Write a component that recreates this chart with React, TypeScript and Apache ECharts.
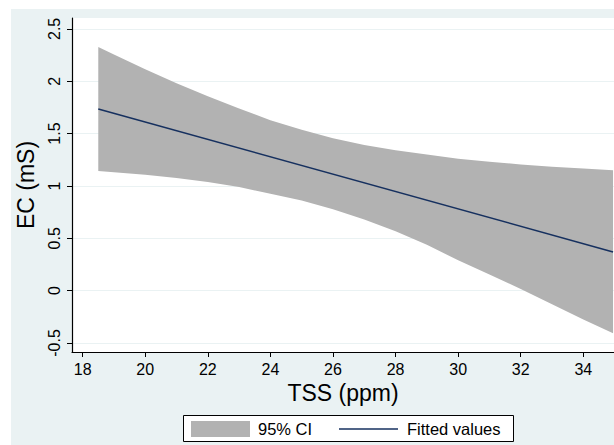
import React, { useEffect, useRef } from "react";
import * as echarts from "echarts";

const xTicks = [18, 20, 22, 24, 26, 28, 30, 32, 34];
const yTicks = [-0.5, 0, 0.5, 1, 1.5, 2, 2.5];
const ciX = [18.5, 19, 20, 21, 22, 23, 24, 25, 26, 27, 28, 29, 30, 31, 32, 33, 34, 34.95];
const ciUpper = [2.326, 2.255, 2.115, 1.981, 1.856, 1.74, 1.628, 1.537, 1.455, 1.39, 1.34, 1.301, 1.26, 1.231, 1.205, 1.184, 1.166, 1.151];
const ciLower = [1.142, 1.131, 1.106, 1.075, 1.037, 0.989, 0.926, 0.861, 0.777, 0.679, 0.568, 0.438, 0.29, 0.155, 0.015, -0.13, -0.275, -0.407];
const fitX = [18.5, 34.95];
const fitY = [1.735, 0.37];
const legendLabels = ["95% CI", "Fitted values"];

const FONT = "'Liberation Sans', Arial, Helvetica, sans-serif";
const BG = "#EAF2F3";
const BAND = "#B2B2B2";
const LINE = "#16305F";

export default function App() {
  const ref = useRef<HTMLDivElement>(null);
  useEffect(() => {
    if (!ref.current) return;
    const chart = echarts.init(ref.current, null, { renderer: "svg" });
    const upperPts = ciX.map((x, i) => [x, ciUpper[i]]);
    const lowerPts = ciX.map((x, i) => [x, ciLower[i]]).reverse();
    chart.setOption({
      animation: false,
      backgroundColor: "#ffffff",
      graphic: [
        { type: "rect", z: -10, silent: true, shape: { x: 11, y: 9, width: 603, height: 436 }, style: { fill: BG } },
        { type: "rect", z: 100, shape: { x: 183.5, y: 415.5, width: 330, height: 26 }, style: { fill: "#ffffff", stroke: "#000000", lineWidth: 1 } },
        { type: "rect", z: 101, shape: { x: 191, y: 421, width: 59, height: 16 }, style: { fill: BAND } },
        { type: "text", z: 101, x: 258, y: 429, style: { text: legendLabels[0], font: `16.5px ${FONT}`, fill: "#000", verticalAlign: "middle" } },
        { type: "line", z: 101, shape: { x1: 339, y1: 429, x2: 398, y2: 429 }, style: { stroke: LINE, lineWidth: 1.6 } },
        { type: "text", z: 101, x: 407, y: 429, style: { text: legendLabels[1], font: `16.5px ${FONT}`, fill: "#000", verticalAlign: "middle" } },
      ],
      grid: { left: 72, top: 18, right: 0, bottom: 93, show: true, backgroundColor: "#ffffff", borderWidth: 0 },
      xAxis: {
        type: "value",
        min: 17.66,
        max: 34.98,
        name: "TSS (ppm)",
        nameLocation: "middle",
        nameGap: 26,
        nameTextStyle: { fontFamily: FONT, fontSize: 23, color: "#000" },
        axisLine: { show: true, onZero: false, lineStyle: { color: "#000", width: 1.2 } },
        axisTick: { show: true, length: 5, customValues: xTicks, lineStyle: { color: "#000" } },
        axisLabel: { customValues: xTicks, margin: 9, fontFamily: FONT, fontSize: 16, color: "#000" },
        splitLine: { show: false },
      },
      yAxis: {
        type: "value",
        min: -0.586,
        max: 2.604,
        name: "EC (mS)",
        nameLocation: "middle",
        nameGap: 35,
        nameTextStyle: { fontFamily: FONT, fontSize: 23, color: "#000" },
        axisLine: { show: true, onZero: false, lineStyle: { color: "#000", width: 1.2 } },
        axisTick: { show: true, length: 5, customValues: yTicks, lineStyle: { color: "#000" } },
        axisLabel: { customValues: yTicks, rotate: 90, margin: 10, fontFamily: FONT, fontSize: 16, color: "#000" },
        splitLine: { show: true, lineStyle: { color: BG, width: 1 } },
      },
      series: [
        {
          type: "custom",
          z: 2,
          silent: true,
          data: [[ciX[0], ciUpper[0]]],
          renderItem: (_params: any, api: any) => {
            const pts = [...upperPts, ...lowerPts].map((p) => api.coord(p));
            return { type: "polygon", shape: { points: pts }, style: { fill: BAND } };
          },
        },
        {
          type: "line",
          z: 3,
          data: fitX.map((x, i) => [x, fitY[i]]),
          showSymbol: false,
          lineStyle: { color: LINE, width: 1.6 },
        },
      ],
    });
    return () => chart.dispose();
  }, []);
  return <div ref={ref} style={{ position: "absolute", left: 0, top: 0, width: 614, height: 445 }} />;
}
